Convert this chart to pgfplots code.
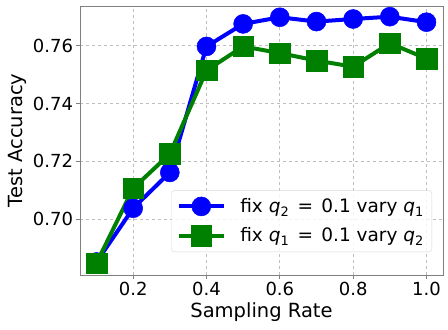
\documentclass[border=0pt]{standalone}
\usepackage{fontspec}
\setmainfont{DejaVu Sans}
\usepackage{pgfplots}
\pgfplotsset{compat=1.18}
\definecolor{MplBlue}{RGB}{0,0,255}
\definecolor{MplGreen}{RGB}{0,128,0}
\definecolor{FrameGray}{RGB}{128,128,128}
\definecolor{GridGray}{RGB}{190,190,190}
\newcommand{\qeq}{\hspace{0.45em}=\hspace{0.45em}}

\begin{document}
\begin{tikzpicture}
\begin{axis}[
  scale only axis,
  width=363bp, height=269bp,
  xmin=0.055, xmax=1.045,
  ymin=0.6807, ymax=0.7738,
  xtick={0.2,0.4,0.6,0.8,1.0},
  ytick={0.70,0.72,0.74,0.76},
  scaled ticks=false,
  xticklabel style={/pgf/number format/.cd,fixed,fixed zerofill,precision=1},
  yticklabel style={/pgf/number format/.cd,fixed,fixed zerofill,precision=2},
  /pgf/number format/assume math mode=true,
  tick label style={font=\fontsize{18bp}{21bp}\selectfont},
  label style={font=\fontsize{19.5bp}{23bp}\selectfont},
  xlabel={Sampling Rate},
  ylabel={Test Accuracy},
  axis line style={draw=FrameGray, line width=0.8bp},
  tick style={draw=FrameGray, line width=0.8bp},
  tick align=outside, major tick length=3.5bp,
  xtick pos=left, ytick pos=left,
  grid=major,
  grid style={dashed, draw=GridGray, line width=0.8bp},
  clip=false,
  legend style={at={(0.970,0.0855)}, anchor=south east,
    font=\fontsize{18.5bp}{21bp}\selectfont,
    draw=GridGray!60, fill=white, fill opacity=0.8, text opacity=1,
    rounded corners=3bp, inner xsep=6bp, inner ysep=6bp, row sep=9bp,
    /tikz/every odd column/.append style={column sep=12bp},
    cells={anchor=west}},
  legend image code/.code={\draw[fill opacity=1, draw opacity=1,
    mark repeat=2,mark phase=2,#1]
    plot coordinates {(0bp,0bp) (22bp,0bp) (45bp,0bp)};},
]
\addplot[color=MplBlue, line width=4bp, mark=*, mark size=9.5bp,
  mark options={solid, line width=0.5bp}]
  coordinates {(0.1,0.6852) (0.2,0.7038) (0.3,0.7162) (0.4,0.7598) (0.5,0.7676)
               (0.6,0.7699) (0.7,0.7684) (0.8,0.7693) (0.9,0.7701) (1.0,0.7682)};
\addlegendentry{fix \textit{q}\textsubscript{2}\qeq 0.1 vary \textit{q}\textsubscript{1}}
\addplot[color=MplGreen, line width=4bp, mark=square*, mark size=10.3bp,
  mark options={solid, line width=0.5bp}]
  coordinates {(0.1,0.6848) (0.2,0.7107) (0.3,0.7226) (0.4,0.7515) (0.5,0.7598)
               (0.6,0.7575) (0.7,0.7549) (0.8,0.7528) (0.9,0.7609) (1.0,0.7556)};
\addlegendentry{fix \textit{q}\textsubscript{1}\qeq 0.1 vary \textit{q}\textsubscript{2}}
\end{axis}
\pgfresetboundingbox
\path[use as bounding box] (-80bp,-55bp) rectangle (368bp,275bp);
\end{tikzpicture}
\end{document}
